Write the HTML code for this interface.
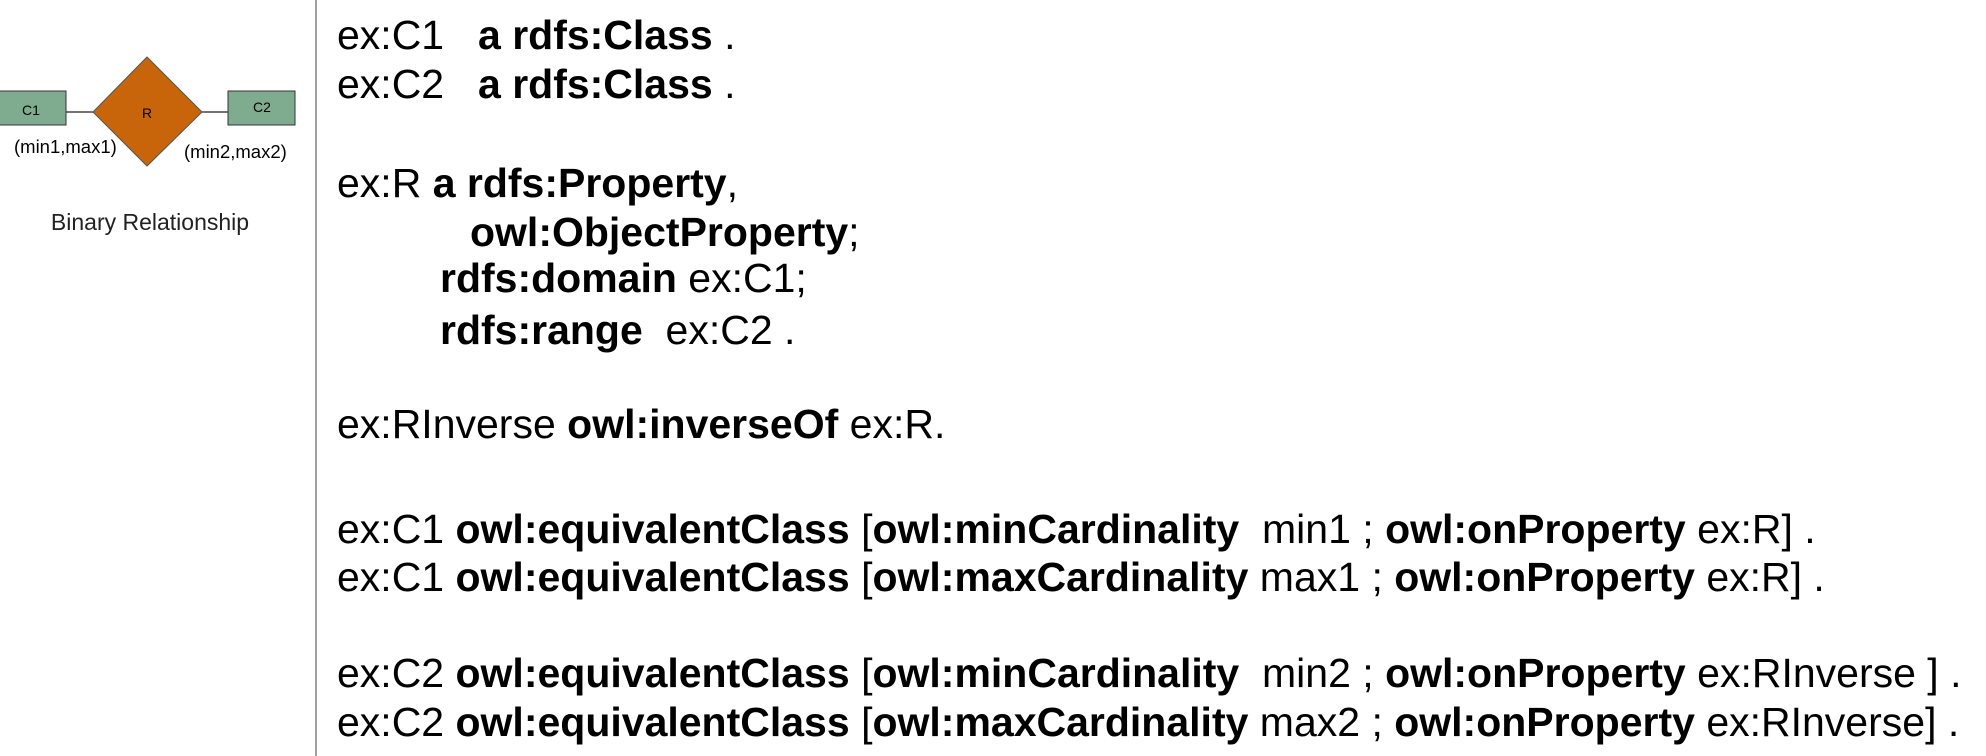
<!DOCTYPE html>
<html><head><meta charset="utf-8"><style>
html,body{margin:0;padding:0;background:#fff;}
body{width:1986px;height:756px;position:relative;overflow:hidden;font-family:"Liberation Sans",Arial,sans-serif;color:#000;}
.l{position:absolute;left:337px;font-size:41px;line-height:40px;white-space:pre;}
b{font-weight:bold;}
.div{position:absolute;left:315px;top:0;width:2px;height:756px;background:#a0a0a0;}
</style></head><body>
<svg style="position:absolute;left:0;top:0" width="310" height="260">
<line x1="66" y1="112" x2="95" y2="112" stroke="#222" stroke-width="1.2"/>
<line x1="200" y1="112" x2="228" y2="112" stroke="#222" stroke-width="1.2"/>
<rect x="-1" y="91" width="67" height="34" fill="#7fab8e" stroke="#333" stroke-width="1"/>
<rect x="228" y="91" width="67" height="34" fill="#7fab8e" stroke="#333" stroke-width="1"/>
<polygon points="147,57 202,112 147,166 93,112" fill="#c8650b" stroke="#555" stroke-width="1"/>
<text x="31" y="115" font-size="14" text-anchor="middle" font-family="Liberation Sans,sans-serif">C1</text>
<text x="262" y="112" font-size="14" text-anchor="middle" font-family="Liberation Sans,sans-serif">C2</text>
<text x="147" y="118" font-size="14" text-anchor="middle" font-family="Liberation Sans,sans-serif">R</text>
<text x="14" y="153" font-size="18.5" font-family="Liberation Sans,sans-serif">(min1,max1)</text>
<text x="184" y="158" font-size="18.5" font-family="Liberation Sans,sans-serif">(min2,max2)</text>
<text x="150" y="230" font-size="23" text-anchor="middle" fill="#222" font-family="Liberation Sans,sans-serif">Binary Relationship</text>
</svg>
<div class="div"></div>
<div class="l" style="top:15px">ex:C1</div><div class="l" style="top:15px;left:478px"><b>a rdfs:Class</b> .</div>
<div class="l" style="top:64px">ex:C2</div><div class="l" style="top:64px;left:478px"><b>a rdfs:Class</b> .</div>
<div class="l" style="top:163px">ex:R <b>a rdfs:Property</b>,</div>
<div class="l" style="top:212px;left:470px"><b>owl:ObjectProperty</b>;</div>
<div class="l" style="top:258px;left:440px"><b>rdfs:domain</b> ex:C1;</div>
<div class="l" style="top:310px;left:440px"><b>rdfs:range</b>  ex:C2 .</div>
<div class="l" style="top:404px">ex:RInverse <b>owl:inverseOf</b> ex:R.</div>
<div class="l" style="top:509px">ex:C1 <b>owl:equivalentClass</b> [<b>owl:minCardinality</b>  min1 ; <b>owl:onProperty</b> ex:R] .</div>
<div class="l" style="top:557px">ex:C1 <b>owl:equivalentClass</b> [<b>owl:maxCardinality</b> max1 ; <b>owl:onProperty</b> ex:R] .</div>
<div class="l" style="top:653px">ex:C2 <b>owl:equivalentClass</b> [<b>owl:minCardinality</b>  min2 ; <b>owl:onProperty</b> ex:RInverse ] .</div>
<div class="l" style="top:702px">ex:C2 <b>owl:equivalentClass</b> [<b>owl:maxCardinality</b> max2 ; <b>owl:onProperty</b> ex:RInverse] .</div>
</body></html>
